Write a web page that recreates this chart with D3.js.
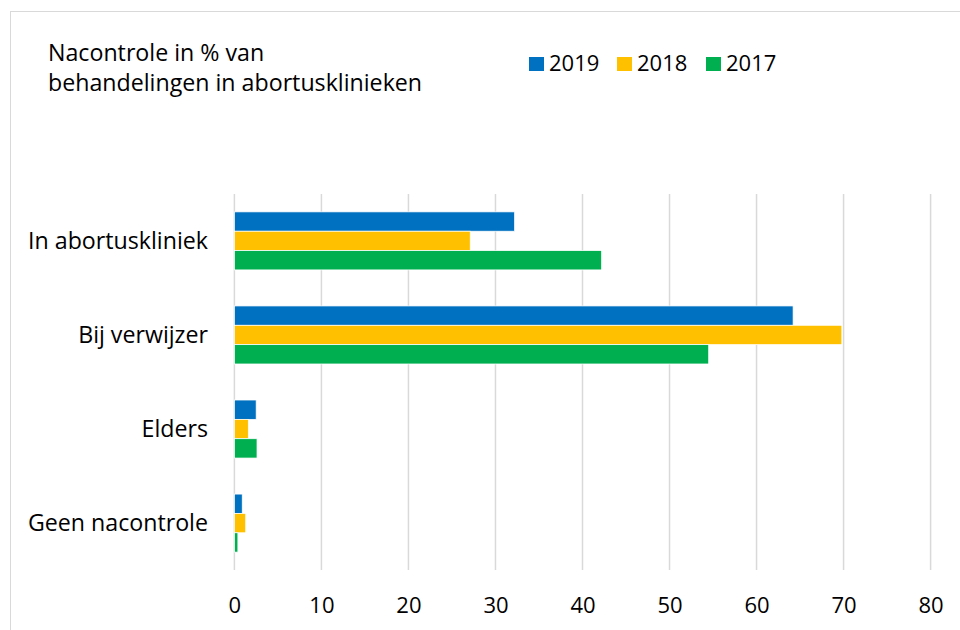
<!DOCTYPE html>
<html><head><meta charset="utf-8">
<script src="https://cdn.jsdelivr.net/npm/d3@7"></script>
<style>body{margin:0;background:#fff}svg{display:block}text{font-family:"Open Sans",sans-serif;fill:#000}</style>
</head><body><svg id="c" width="960" height="630"></svg>
<script>
const categories = ["In abortuskliniek","Bij verwijzer","Elders","Geen nacontrole"];
const seriesNames = ["2019","2018","2017"];
const values2019 = [32.2, 64.2, 2.5, 0.9];
const values2018 = [27.1, 69.8, 1.6, 1.3];
const values2017 = [42.2, 54.5, 2.6, 0.4];
const xTicks = [0,10,20,30,40,50,60,70,80];
const colors = ["#0070C0","#FFC000","#00B050"];
const title = ["Nacontrole in % van","behandelingen in abortusklinieken"];

const FS = 23.2, FN = 22;
const series = [values2019, values2018, values2017];
const svg = d3.select("#c");
svg.append("rect").attr("x",10.5).attr("y",11.5).attr("width",960).attr("height",640)
  .attr("fill","none").attr("stroke","#d9d9d9");

const x = d3.scaleLinear().domain([0,80]).range([234.4,930.6]);
const y = d3.scaleBand().domain(categories).range([194,570]).paddingInner(0.383).paddingOuter(0.19);
const ys = d3.scaleBand().domain(seriesNames).range([0,y.bandwidth()]);

svg.append("g").selectAll("line").data(xTicks).join("line")
  .attr("x1",d=>x(d)).attr("x2",d=>x(d)).attr("y1",194).attr("y2",570)
  .attr("stroke","#d9d9d9").attr("stroke-width",1.5);

const g = svg.append("g");
series.forEach((vals,si)=>{
  g.selectAll(null).data(vals).join("rect")
    .attr("x",x(0)).attr("y",(d,i)=>y(categories[i])+ys(seriesNames[si]))
    .attr("width",d=>x(d)-x(0)).attr("height",ys.bandwidth())
    .attr("fill",colors[si]).attr("stroke","#fff").attr("stroke-width",0.75);
});

const xAxis = d3.axisBottom(x).tickValues(xTicks).tickSize(0).tickPadding(0);
const ax = svg.append("g").attr("transform","translate(0,613)").call(xAxis);
ax.select(".domain").remove();
ax.selectAll("text").attr("font-size",FN).attr("dy",0).attr("font-family","Open Sans").attr("fill","#000");

const yAxis = d3.axisLeft(y).tickSize(0).tickPadding(0);
const ay = svg.append("g").attr("transform","translate(208,0)").call(yAxis);
ay.select(".domain").remove();
ay.selectAll("text").attr("font-size",FS).attr("font-family","Open Sans").attr("fill","#000").attr("dy","0.36em");

svg.append("g").selectAll("text").data(title).join("text")
  .attr("x",48).attr("y",(d,i)=>61+i*30).attr("font-size",FS).text(d=>d);

const lg = svg.append("g");
const lx = [529,617,706];
seriesNames.forEach((n,i)=>{
  lg.append("rect").attr("x",lx[i]).attr("y",57).attr("width",15).attr("height",14).attr("fill",colors[i]);
  lg.append("text").attr("x",lx[i]+20).attr("y",71).attr("font-size",FN).text(n);
});
</script></body></html>
